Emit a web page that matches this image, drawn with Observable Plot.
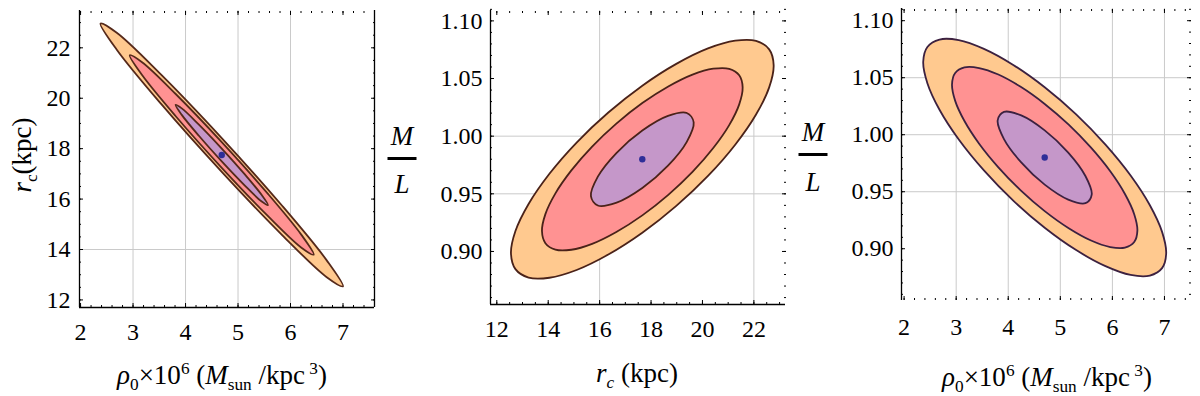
<!DOCTYPE html>
<html><head><meta charset="utf-8">
<script src="https://cdn.jsdelivr.net/npm/d3@7"></script>
<script src="https://cdn.jsdelivr.net/npm/@observablehq/plot@0.6"></script>
<style>
body{margin:0;background:#fff;}
#wrap{position:relative;width:1200px;height:396px;overflow:hidden;font-family:"Liberation Serif","Times New Roman",serif;color:#000;background:#fff;}
.panel{position:absolute;top:0;}
.t{position:absolute;transform:translate(-50%,-50%);white-space:nowrap;font-size:27px;line-height:1;}
.t sub,.t sup{font-size:0.64em;line-height:0;}
.rot{transform:translate(-50%,-50%) rotate(-90deg);}
.bar{position:absolute;height:3px;width:29px;background:#000;transform:translateX(-50%);}
</style></head>
<body>
<div id="wrap">
  <div id="p1" class="panel" style="left:0"></div>
  <div id="p2" class="panel" style="left:400px"></div>
  <div id="p3" class="panel" style="left:800px"></div>

  <div class="t" style="left:222px;top:375px"><i>ρ</i><sub>0</sub>×10<sup>6</sup> (<i>M</i><sub>sun</sub> /kpc<sup> 3</sup>)</div>
  <div class="t rot" style="left:22px;top:155px"><i>r</i><sub>c</sub>(kpc)</div>

  <div class="t" style="left:637px;top:373px"><i>r<sub>c</sub></i>&nbsp;(kpc)</div>
  <div class="t" style="left:402px;top:136px"><i>M</i></div>
  <div class="bar" style="left:402px;top:157px"></div>
  <div class="t" style="left:402px;top:184px"><i>L</i></div>

  <div class="t" style="left:1047px;top:377px"><i>ρ</i><sub>0</sub>×10<sup>6</sup> (<i>M</i><sub>sun</sub> /kpc<sup> 3</sup>)</div>
  <div class="t" style="left:813px;top:132px"><i>M</i></div>
  <div class="bar" style="left:813px;top:153px"></div>
  <div class="t" style="left:813px;top:182px"><i>L</i></div>
</div>
<script>
// ---------- Panel 1: rho0 vs r_c ----------
const p1XDomain = [1.98, 7.6];
const p1YDomain = [11.7, 23.48];
const p1XTicks = [2, 3, 4, 5, 6, 7];
const p1YTicks = [12, 14, 16, 18, 20, 22];
const p1GridX = [3, 4, 5, 6];
const p1GridY = [14];
const p1Best = [[4.69, 17.75]];
const p1Orange = [[7.00,12.54],[6.69,13.57],[5.845,15.725],[4.69,18.42],[3.535,20.935],[2.69,22.597],[2.38,22.96],[2.69,21.927],[3.535,19.775],[4.69,17.08],[5.845,14.565],[6.69,12.903]];
const p1Pink = [[6.443,13.796],[6.208,14.58],[5.567,16.214],[4.69,18.259],[3.813,20.168],[3.172,21.428],[2.937,21.704],[3.172,20.92],[3.813,19.286],[4.69,17.241],[5.567,15.332],[6.208,14.072]];
const p1Purple = [[5.57,15.765],[5.452,16.159],[5.13,16.978],[4.69,18.005],[4.25,18.964],[3.928,19.597],[3.81,19.735],[3.928,19.341],[4.25,18.522],[4.69,17.495],[5.13,16.536],[5.452,15.903]];

// ---------- Panel 2: r_c vs M/L ----------
const p2XDomain = [11.755, 23.23];
const p2YDomain = [0.854, 1.109];
const p2XTicks = [12, 14, 16, 18, 20, 22];
const p2YTicks = [0.90, 0.95, 1.00, 1.05, 1.10];
const p2GridX = [16, 22];
const p2GridY = [0.95, 1.00];
const p2Best = [[17.66, 0.980]];
const p2Orange = [[22.769,1.0616],[22.595,1.0753],[22.084,1.0826],[21.273,1.0828],[20.215,1.0761],[18.982,1.0627],[17.66,1.0438],[16.338,1.0205],[15.105,0.9945],[14.047,0.9674],[13.236,0.9412],[12.725,0.9177],[12.551,0.8984],[12.725,0.8847],[13.236,0.8774],[14.047,0.8772],[15.105,0.8839],[16.338,0.8973],[17.66,0.9162],[18.982,0.9395],[20.215,0.9655],[21.273,0.9926],[22.084,1.0188],[22.595,1.0423]];
const p2Pink = [[21.563,1.0423],[21.43,1.0528],[21.04,1.0584],[20.42,1.0585],[19.612,1.0534],[18.67,1.0431],[17.66,1.0287],[16.65,1.0109],[15.708,0.991],[14.90,0.9703],[14.28,0.9504],[13.89,0.9324],[13.757,0.9177],[13.89,0.9072],[14.28,0.9016],[14.90,0.9015],[15.708,0.9066],[16.65,0.9169],[17.66,0.9313],[18.67,0.9491],[19.612,0.969],[20.42,0.9897],[21.04,1.0096],[21.43,1.0276]];
const p2Purple = [[19.658,1.0119],[19.39,1.0201],[18.659,1.0176],[17.66,1.0049],[16.661,0.9856],[15.93,0.9649],[15.662,0.9481],[15.93,0.9399],[16.661,0.9424],[17.66,0.9551],[18.659,0.9744],[19.39,0.9951]];

// ---------- Panel 3: rho0 vs M/L ----------
const p3XDomain = [1.95, 7.5];
const p3YDomain = [0.8546, 1.1107];
const p3XTicks = [2, 3, 4, 5, 6, 7];
const p3YTicks = [0.90, 0.95, 1.00, 1.05, 1.10];
const p3GridX = [3, 4, 5, 6, 7];
const p3GridY = [0.95, 1.00, 1.05];
const p3Best = [[4.70, 0.980]];
const p3Orange = [[7.033,0.896],[6.954,0.9148],[6.72,0.9381],[6.35,0.9642],[5.867,0.9913],[5.304,1.0178],[4.70,1.0416],[4.096,1.0612],[3.533,1.0753],[3.05,1.083],[2.68,1.0835],[2.447,1.077],[2.367,1.064],[2.447,1.0452],[2.68,1.0219],[3.05,0.9958],[3.533,0.9687],[4.096,0.9422],[4.70,0.9184],[5.304,0.8988],[5.867,0.8847],[6.35,0.877],[6.72,0.8765],[6.954,0.883]];
const p3Pink = [[6.48,0.9159],[6.419,0.9303],[6.241,0.948],[5.959,0.9679],[5.59,0.9886],[5.161,1.0088],[4.70,1.027],[4.239,1.042],[3.81,1.0528],[3.441,1.0585],[3.159,1.059],[2.981,1.0541],[2.92,1.0441],[2.981,1.0297],[3.159,1.012],[3.441,0.9921],[3.81,0.9714],[4.239,0.9512],[4.70,0.933],[5.161,0.918],[5.59,0.9072],[5.959,0.9015],[6.241,0.901],[6.419,0.9059]];
const p3Purple = [[5.603,0.9475],[5.482,0.9638],[5.152,0.9843],[4.70,1.0038],[4.249,1.0169],[3.918,1.02],[3.797,1.0125],[3.918,0.9962],[4.249,0.9757],[4.70,0.9562],[5.152,0.9431],[5.482,0.94]];

const FILL = {orange: "#ffc98f", pink: "#ff9292", purple: "#c597c9"};
const FONT = "Liberation Serif, Times New Roman, serif";
const acc = {x: d => d[0], y: d => d[1]};

function panel(c) {
  const marks = [
    Plot.gridX(c.gridX, {stroke: "#cacaca", strokeOpacity: 1, strokeWidth: 1}),
    Plot.gridY(c.gridY, {stroke: "#cacaca", strokeOpacity: 1, strokeWidth: 1}),
  ];
  for (const [pts, col] of c.contours) {
    marks.push(Plot.line(pts, {...acc, curve: "catmull-rom-closed", fill: col, stroke: c.outline, strokeWidth: 1.8}));
  }
  marks.push(Plot.dot(c.best, {...acc, r: 3.2, fill: "#2e2e98", stroke: null}));
  if (c.lines.includes("left")) marks.push(Plot.ruleX([c.xDomain[0]], {stroke: "#000", strokeWidth: 1.3}));
  if (c.lines.includes("right")) marks.push(Plot.ruleX([c.xDomain[1]], {stroke: "#000", strokeWidth: 1.3}));
  if (c.lines.includes("bottom")) marks.push(Plot.ruleY([c.yDomain[0]], {stroke: "#000", strokeWidth: 1.3}));
  marks.push(Plot.axisX(c.xTicks, {anchor: "bottom", tickSize: 0, tickPadding: c.xPad, label: null, fontFamily: FONT, fontSize: 24}));
  marks.push(Plot.axisY(c.yTicks, {anchor: "left", tickSize: 0, tickPadding: c.yPad, label: null, tickFormat: c.yFmt, fontFamily: FONT, fontSize: 24}));
  for (const a of ["bottom", "top"]) {
    marks.push(Plot.axisX(c.xTicks, {anchor: a, tickSize: -4, tickFormat: () => "", label: null}));
    marks.push(Plot.axisX({anchor: a, interval: c.xMinor, tickSize: -2, tickFormat: () => "", label: null}));
  }
  for (const a of ["left", "right"]) {
    marks.push(Plot.axisY(c.yTicks, {anchor: a, tickSize: -4, tickFormat: () => "", label: null}));
    marks.push(Plot.axisY({anchor: a, interval: c.yMinor, tickSize: -2, tickFormat: () => "", label: null}));
  }
  return Plot.plot({
    width: 400, height: 396,
    marginLeft: c.m[0], marginRight: c.m[1], marginTop: c.m[2], marginBottom: c.m[3],
    x: {domain: c.xDomain},
    y: {domain: c.yDomain},
    style: {background: "transparent", color: "#000", overflow: "visible", fontFamily: FONT, fontSize: "24px"},
    marks
  });
}

document.getElementById("p1").append(panel({
  xDomain: p1XDomain, yDomain: p1YDomain, xTicks: p1XTicks, yTicks: p1YTicks,
  gridX: p1GridX, gridY: p1GridY, best: p1Best,
  contours: [[p1Orange, FILL.orange], [p1Pink, FILL.pink], [p1Purple, FILL.purple]],
  outline: "#55291a", lines: ["left", "right", "bottom"],
  m: [79, 26, 10, 89], xPad: 15, yPad: 9, xMinor: 0.2, yMinor: 0.5, yFmt: d3.format("d")
}));
document.getElementById("p2").append(panel({
  xDomain: p2XDomain, yDomain: p2YDomain, xTicks: p2XTicks, yTicks: p2YTicks,
  gridX: p2GridX, gridY: p2GridY, best: p2Best,
  contours: [[p2Orange, FILL.orange], [p2Pink, FILL.pink], [p2Purple, FILL.purple]],
  outline: "#4a2219", lines: ["left", "bottom"],
  m: [90, 15, 10, 92], xPad: 15, yPad: 8, xMinor: 0.5, yMinor: 0.01, yFmt: d3.format(".2f")
}));
document.getElementById("p3").append(panel({
  xDomain: p3XDomain, yDomain: p3YDomain, xTicks: p3XTicks, yTicks: p3YTicks,
  gridX: p3GridX, gridY: p3GridY, best: p3Best,
  contours: [[p3Orange, FILL.orange], [p3Pink, FILL.pink], [p3Purple, FILL.purple]],
  outline: "#3c2140", lines: ["left"],
  m: [101, 10, 8, 96], xPad: 17, yPad: 8, xMinor: 0.2, yMinor: 0.01, yFmt: d3.format(".2f")
}));
</script>
</body></html>
